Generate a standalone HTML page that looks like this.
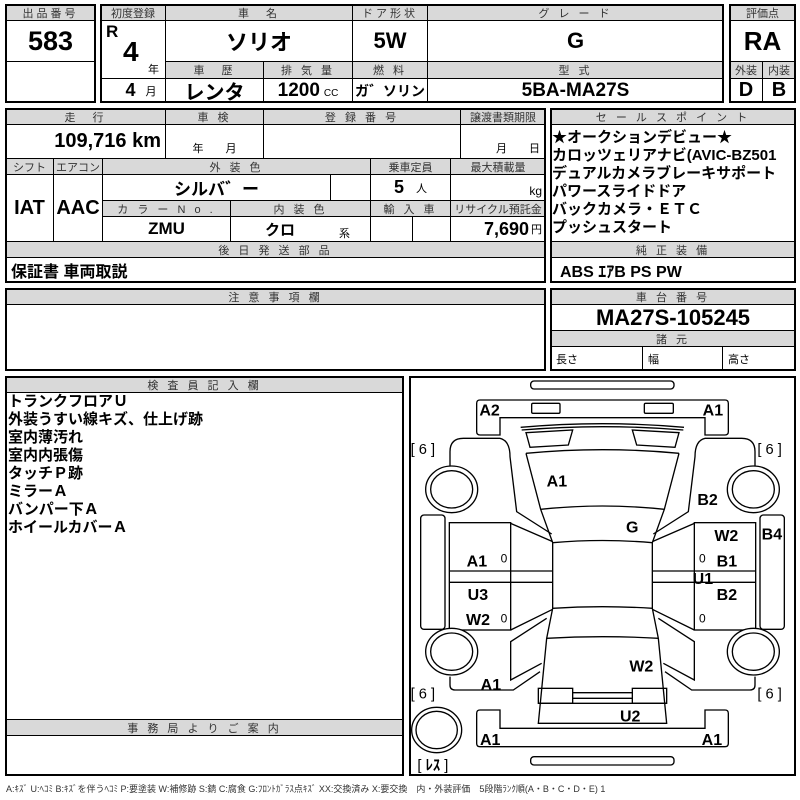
<!DOCTYPE html>
<html><head><meta charset="utf-8"><style>
body{margin:0;background:#fff;}
#p{position:relative;width:800px;height:800px;overflow:hidden;font-family:"Liberation Sans","Noto Sans CJK JP",sans-serif;color:#000}
.c{position:absolute;box-sizing:border-box;border:1px solid #000;display:flex;align-items:center;justify-content:center;overflow:hidden;white-space:nowrap}
.o{position:absolute;box-sizing:border-box;border:2px solid #000}
.g{background:#d9d9d9;font-size:11px;letter-spacing:3px;color:#333}
.v{font-family:"Liberation Sans Narrow","Liberation Sans","Noto Sans CJK JP",sans-serif;font-weight:bold;font-size:22px}
.t{position:absolute;white-space:nowrap}
.L{font-family:"Liberation Sans Narrow","Liberation Sans","Noto Sans CJK JP",sans-serif;font-weight:bold;font-size:15px;line-height:18px}
.s{font-size:11px;font-weight:normal}
</style></head><body><div id="p">
<!-- block1 -->
<div class="c g" style="left:5px;top:4px;width:91px;height:17px">出品番号</div>
<div class="c v" style="left:5px;top:20px;width:91px;height:42px;font-size:27px">583</div>
<div class="c" style="left:5px;top:61px;width:91px;height:42px"></div>
<div class="o" style="left:5px;top:4px;width:91px;height:99px"></div>
<!-- block2 -->
<div class="c g" style="left:100px;top:4px;width:66px;height:17px;letter-spacing:0">初度登録</div>
<div class="c g" style="left:165px;top:4px;width:188px;height:17px">車　名</div>
<div class="c g" style="left:352px;top:4px;width:76px;height:17px">ドア形状</div>
<div class="c g" style="left:427px;top:4px;width:297px;height:17px">グ レ ー ド</div>
<div class="c" style="left:100px;top:20px;width:66px;height:59px"></div>
<div class="t v" style="left:106px;top:22px;font-size:17px">R</div>
<div class="t v" style="left:123px;top:36px;font-size:28px">4</div>
<div class="t" style="left:148px;top:61px;font-size:11px">年</div>
<div class="c v" style="left:165px;top:20px;width:188px;height:42px">ソリオ</div>
<div class="c v" style="left:352px;top:20px;width:76px;height:42px">5W</div>
<div class="c v" style="left:427px;top:20px;width:297px;height:42px">G</div>
<div class="c g" style="left:165px;top:61px;width:99px;height:18px">車　歴</div>
<div class="c g" style="left:263px;top:61px;width:90px;height:18px">排 気 量</div>
<div class="c g" style="left:352px;top:61px;width:76px;height:18px">燃 料</div>
<div class="c g" style="left:427px;top:61px;width:297px;height:18px">型 式</div>
<div class="c" style="left:100px;top:78px;width:66px;height:25px"><span class="v" style="font-size:18px;margin-left:16px">4</span><span style="font-size:11px;margin-left:10px">月</span></div>
<div class="c v" style="left:165px;top:78px;width:99px;height:25px;font-size:20px">レンタ</div>
<div class="c" style="left:263px;top:78px;width:90px;height:25px"><span class="v" style="font-size:19px">1200</span><span style="font-size:10px;margin-left:4px;margin-top:6px">CC</span></div>
<div class="c v" style="left:352px;top:78px;width:76px;height:25px;font-size:14px">ガ゛ソリン</div>
<div class="c v" style="left:427px;top:78px;width:297px;height:25px;font-size:19px">5BA-MA27S</div>
<div class="o" style="left:100px;top:4px;width:624px;height:99px"></div>
<!-- block3 -->
<div class="c g" style="left:729px;top:4px;width:67px;height:17px;letter-spacing:0">評価点</div>
<div class="c v" style="left:729px;top:20px;width:67px;height:42px;font-size:26px">RA</div>
<div class="c g" style="left:729px;top:61px;width:34px;height:18px;letter-spacing:0">外装</div>
<div class="c g" style="left:762px;top:61px;width:34px;height:18px;letter-spacing:0">内装</div>
<div class="c v" style="left:729px;top:78px;width:34px;height:25px;font-size:20px">D</div>
<div class="c v" style="left:762px;top:78px;width:34px;height:25px;font-size:20px">B</div>
<div class="o" style="left:729px;top:4px;width:67px;height:99px"></div>
<!-- block4 -->
<div class="c g" style="left:5px;top:108px;width:161px;height:17px">走　行</div>
<div class="c g" style="left:165px;top:108px;width:99px;height:17px">車 検</div>
<div class="c g" style="left:263px;top:108px;width:198px;height:17px">登 録 番 号</div>
<div class="c g" style="left:460px;top:108px;width:86px;height:17px;letter-spacing:0">譲渡書類期限</div>
<div class="c v" style="left:5px;top:124px;width:161px;height:35px;justify-content:flex-end;padding-right:4px;font-size:20px">109,716 km</div>
<div class="c" style="left:165px;top:124px;width:99px;height:35px;align-items:flex-end;font-size:11px;padding-bottom:2px">年　　月</div>
<div class="c" style="left:263px;top:124px;width:198px;height:35px"></div>
<div class="c" style="left:460px;top:124px;width:86px;height:35px;align-items:flex-end;justify-content:flex-end;font-size:11px;padding:0 5px 2px 0">月　　日</div>
<div class="c g" style="left:5px;top:158px;width:49px;height:17px;letter-spacing:0">シフト</div>
<div class="c g" style="left:53px;top:158px;width:50px;height:17px;letter-spacing:0">エアコン</div>
<div class="c g" style="left:102px;top:158px;width:269px;height:17px">外 装 色</div>
<div class="c g" style="left:370px;top:158px;width:81px;height:17px;letter-spacing:0">乗車定員</div>
<div class="c g" style="left:450px;top:158px;width:96px;height:17px;letter-spacing:0">最大積載量</div>
<div class="c v" style="left:5px;top:174px;width:49px;height:68px;font-size:20px">IAT</div>
<div class="c v" style="left:53px;top:174px;width:50px;height:68px;font-size:20px">AAC</div>
<div class="c v" style="left:102px;top:174px;width:229px;height:27px;font-size:17px">シルバ゛ー</div>
<div class="c" style="left:330px;top:174px;width:41px;height:27px"></div>
<div class="c" style="left:370px;top:174px;width:81px;height:27px"><span class="v" style="font-size:18px">5</span><span style="font-size:11px;margin-left:12px">人</span></div>
<div class="c" style="left:450px;top:174px;width:96px;height:27px;justify-content:flex-end;align-items:flex-end;font-size:12px;padding:0 3px 2px 0">kg</div>
<div class="c g" style="left:102px;top:200px;width:129px;height:17px">カ ラ ー N o .</div>
<div class="c g" style="left:230px;top:200px;width:141px;height:17px">内 装 色</div>
<div class="c g" style="left:370px;top:200px;width:81px;height:17px">輸 入 車</div>
<div class="c g" style="left:450px;top:200px;width:96px;height:17px;letter-spacing:0">リサイクル預託金</div>
<div class="c v" style="left:102px;top:216px;width:129px;height:26px;font-size:17px">ZMU</div>
<div class="c" style="left:230px;top:216px;width:141px;height:26px"><span class="v" style="font-size:15px;margin-left:14px">クロ</span><span style="font-size:11px;margin-left:44px;margin-top:8px">系</span></div>
<div class="c" style="left:370px;top:216px;width:43px;height:26px"></div>
<div class="c" style="left:412px;top:216px;width:39px;height:26px"></div>
<div class="c" style="left:450px;top:216px;width:96px;height:26px;justify-content:flex-end;padding-right:3px"><span class="v" style="font-size:18px">7,690</span><span style="font-size:11px;margin-left:2px">円</span></div>
<div class="c g" style="left:5px;top:241px;width:541px;height:17px">後 日 発 送 部 品</div>
<div class="c v" style="left:5px;top:257px;width:541px;height:26px;justify-content:flex-start;padding-left:5px;font-size:16px">保証書 車両取説</div>
<div class="o" style="left:5px;top:108px;width:541px;height:175px"></div>
<!-- sale -->
<div class="c g" style="left:550px;top:108px;width:246px;height:17px">セ ー ル ス ポ イ ン ト</div>
<div class="c" style="left:550px;top:124px;width:246px;height:118px"></div>
<div class="t L" style="left:552px;top:129px">★オークションデビュー★<br>カロッツェリアナビ(AVIC-BZ501<br>デュアルカメラブレーキサポート<br>パワースライドドア<br>バックカメラ・ＥＴＣ<br>プッシュスタート</div>
<div class="c g" style="left:550px;top:241px;width:246px;height:17px">純 正 装 備</div>
<div class="c v" style="left:550px;top:257px;width:246px;height:26px;justify-content:flex-start;padding-left:9px;font-size:16px">ABS ｴｱB PS PW</div>
<div class="o" style="left:550px;top:108px;width:246px;height:175px"></div>
<!-- notes -->
<div class="c g" style="left:5px;top:288px;width:541px;height:17px">注 意 事 項 欄</div>
<div class="c" style="left:5px;top:304px;width:541px;height:67px"></div>
<div class="o" style="left:5px;top:288px;width:541px;height:83px"></div>
<div class="c g" style="left:550px;top:288px;width:246px;height:17px">車 台 番 号</div>
<div class="c v" style="left:550px;top:304px;width:246px;height:27px;font-size:22px">MA27S-105245</div>
<div class="c g" style="left:550px;top:330px;width:246px;height:17px">諸 元</div>
<div class="c" style="left:550px;top:346px;width:93px;height:25px;justify-content:flex-start;padding-left:5px;font-size:11px">長さ</div>
<div class="c" style="left:642px;top:346px;width:81px;height:25px;justify-content:flex-start;padding-left:5px;font-size:11px">幅</div>
<div class="c" style="left:722px;top:346px;width:74px;height:25px;justify-content:flex-start;padding-left:5px;font-size:11px">高さ</div>
<div class="o" style="left:550px;top:288px;width:246px;height:83px"></div>
<!-- inspector -->
<div class="c g" style="left:5px;top:376px;width:399px;height:17px">検 査 員 記 入 欄</div>
<div class="c" style="left:5px;top:392px;width:399px;height:328px"></div>
<div class="t L" style="left:8px;top:393px">トランクフロアＵ<br>外装うすい線キズ、仕上げ跡<br>室内薄汚れ<br>室内内張傷<br>タッチＰ跡<br>ミラーＡ<br>バンパー下Ａ<br>ホイールカバーＡ</div>
<div class="c g" style="left:5px;top:719px;width:399px;height:17px">事 務 局 よ り ご 案 内</div>
<div class="o" style="left:5px;top:376px;width:399px;height:400px"></div>
<div class="o" style="left:409px;top:376px;width:387px;height:400px"></div>
<div class="t" style="left:6px;top:782px;font-size:9px;color:#333">A:ｷｽﾞ U:ﾍｺﾐ B:ｷｽﾞを伴うﾍｺﾐ P:要塗装 W:補修跡 S:錆 C:腐食 G:ﾌﾛﾝﾄｶﾞﾗｽ点ｷｽﾞ XX:交換済み X:要交換　内・外装評価　5段階ﾗﾝｸ順(A・B・C・D・E) 1</div>
<!-- diagram -->
<svg style="position:absolute;left:400px;top:370px" width="400" height="420" viewBox="0 0 1200 1260">
<g fill="none" stroke="#000" stroke-width="4">
<rect x="392" y="33" width="430" height="24" rx="10"/>
<rect x="392" y="1160" width="430" height="25" rx="10"/>
<path d="M240,90 H975 Q985,90 985,100 V185 Q985,195 975,195 H915 V143 H300 V195 H240 Q230,195 230,185 V100 Q230,90 240,90Z"/>
<rect x="395" y="100" width="85" height="30" rx="4"/>
<rect x="733" y="100" width="87" height="30" rx="4"/>
<path d="M230,1030 Q230,1020 240,1020 H300 V1075 H915 V1020 H975 Q985,1020 985,1030 V1120 Q985,1130 975,1130 H240 Q230,1130 230,1120Z"/>
<path d="M362,172 Q607,150 852,172 M365,180 Q607,160 850,180"/>
<polygon points="378,188 518,180 505,225 390,232"/>
<polygon points="697,180 837,188 825,232 710,225"/>
<path d="M378,250 Q607,228 837,250"/>
<path d="M422,418 Q607,398 793,418"/>
<path d="M458,518 Q607,505 757,518"/>
<path d="M458,715 Q607,705 757,715"/>
<path d="M440,805 Q607,795 775,805"/>
<path d="M378,250 L422,418 L458,518 V715 L440,805 L415,1060 H800 L775,805 L757,715 V518 L793,418 L837,250"/>
<path d="M415,1000 H800"/>
<rect x="415" y="955" width="103" height="45"/>
<rect x="697" y="955" width="103" height="45"/>
<path d="M518,968 H697 M518,985 H697"/>
<g id="side">
<path d="M300,205 H190 Q150,205 150,245 V300"/>
<path d="M300,205 Q330,212 330,260 L350,425 L455,492"/>
<rect x="62" y="435" width="73" height="343" rx="10"/>
<rect x="148" y="458" width="184" height="322"/>
<path d="M148,603 H458 M148,637 H458 M332,460 L458,515 M332,780 L458,718"/>
<path d="M440,745 L332,815 V930 L425,880"/>
<path d="M150,920 V945 Q150,960 165,960 H340 L420,905"/>
<ellipse cx="155" cy="358" rx="78" ry="70" fill="#fff"/>
<ellipse cx="155" cy="358" rx="63" ry="56"/>
<ellipse cx="155" cy="845" rx="78" ry="70" fill="#fff"/>
<ellipse cx="155" cy="845" rx="63" ry="56"/>
</g>
<use href="#side" transform="translate(1215,0) scale(-1,1)"/>
<ellipse cx="110" cy="1080" rx="75" ry="68"/>
<ellipse cx="110" cy="1080" rx="62" ry="56"/>
</g>
<g font-family="Liberation Sans Narrow, Liberation Sans, Noto Sans CJK JP, sans-serif" font-weight="bold" font-size="48" fill="#000">
<text x="238" y="137">A2</text><text x="908" y="137">A1</text>
<text x="440" y="350">A1</text><text x="892" y="405">B2</text>
<text x="678" y="488">G</text><text x="943" y="513">W2</text><text x="1085" y="508">B4</text>
<text x="200" y="590">A1</text><text x="950" y="590">B1</text>
<text x="878" y="642">U1</text><text x="203" y="690">U3</text><text x="950" y="690">B2</text>
<text x="198" y="765">W2</text><text x="688" y="905">W2</text>
<text x="242" y="960">A1</text><text x="660" y="1055">U2</text>
<text x="240" y="1125">A1</text><text x="905" y="1125">A1</text>
<g font-weight="normal" font-size="36"><text x="302" y="578">0</text><text x="897" y="578">0</text><text x="302" y="758">0</text><text x="897" y="758">0</text></g>
<g font-size="44" font-weight="normal"><text x="32" y="252">[ 6 ]</text><text x="1072" y="252">[ 6 ]</text><text x="32" y="985">[ 6 ]</text><text x="1072" y="985">[ 6 ]</text><text x="52" y="1200">[ <tspan font-weight="bold">ﾚｽ</tspan> ]</text></g>
</g>
</svg>
</div></body></html>
